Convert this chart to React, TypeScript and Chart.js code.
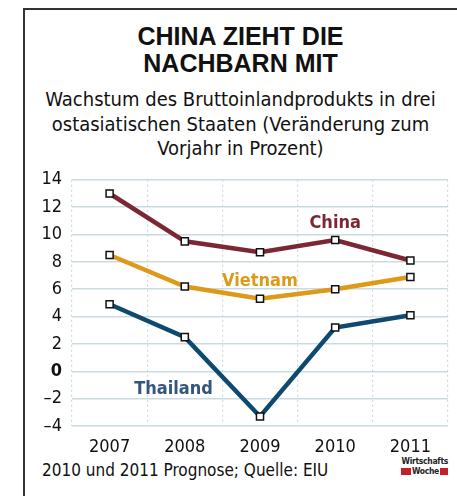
import React, { useEffect, useRef } from "react";
import { Chart, registerables } from "chart.js";

Chart.register(...registerables);

const years = ["2007", "2008", "2009", "2010", "2011"];
const china = [13.0, 9.5, 8.7, 9.6, 8.1];
const vietnam = [8.5, 6.2, 5.3, 6.0, 6.9];
const thailand = [4.9, 2.5, -3.3, 3.2, 4.1];
const yTicks = [-4, -2, 0, 2, 4, 6, 8, 10, 12, 14];

const seriesLabels = [
  { text: "China", x: 3, y: 10.8, color: "#7b2834" },
  { text: "Vietnam", x: 2, y: 6.6, color: "#dc9a18" },
  { text: "Thailand", x: 0.85, y: -1.3, color: "#34557e" },
];

const COND = "'Liberation Sans Narrow', 'DejaVu Sans Condensed', 'Roboto', sans-serif";

const labelPlugin = {
  id: "seriesLabels",
  afterDatasetsDraw(chart: any) {
    const { ctx, scales } = chart;
    ctx.save();
    ctx.font = `bold 18px ${COND}`;
    ctx.textAlign = "center";
    ctx.textBaseline = "middle";
    for (const l of seriesLabels) {
      ctx.fillStyle = l.color;
      ctx.fillText(l.text, scales.x.getPixelForValue(l.x), scales.y.getPixelForValue(l.y));
    }
    ctx.restore();
  },
};

export default function App() {
  const ref = useRef<HTMLCanvasElement>(null);
  useEffect(() => {
    if (!ref.current) return;
    const mk = (label: string, data: number[], color: string) => ({
      label,
      data,
      borderColor: color,
      borderWidth: 4.5,
      pointStyle: "rect",
      pointRadius: 5,
      pointBackgroundColor: "#ffffff",
      pointBorderColor: "#111111",
      pointBorderWidth: 1.5,
      tension: 0,
    });
    const chart = new Chart(ref.current, {
      type: "line",
      data: {
        labels: years,
        datasets: [
          mk("China", china, "#7b2834"),
          mk("Vietnam", vietnam, "#dc9a18"),
          mk("Thailand", thailand, "#0e4a6f"),
        ],
      },
      options: {
        animation: false,
        responsive: false,
        maintainAspectRatio: false,
        layout: { padding: { top: 0, right: 9, left: 0, bottom: 0 } },
        plugins: { legend: { display: false }, tooltip: { enabled: false } },
        scales: {
          x: {
            offset: true,
            grid: { offset: true, color: "#c9dbe0", lineWidth: 1.2, drawTicks: false },
            border: { display: false, dash: [2, 3] },
            ticks: { color: "#111", font: { family: COND, size: 18 }, padding: 11, maxRotation: 0 },
            afterFit: (s: any) => { s.height = 28; },
          },
          y: {
            min: -4,
            max: 14,
            afterBuildTicks: (s: any) => { s.ticks = yTicks.map((v) => ({ value: v })); },
            grid: { color: "#c9dbe0", lineWidth: 1.5, drawTicks: false },
            border: { display: false },
            ticks: {
              color: "#111",
              padding: 10,
              font: (c: any) => ({ family: COND, size: 18, weight: c.tick && c.tick.value === 0 ? "bold" : "normal" }),
              callback: (v: any) => String(v).replace("-", "\u2013"),
            },
            afterFit: (s: any) => { s.width = 48; },
          },
        },
      },
      plugins: [labelPlugin],
    });
    return () => chart.destroy();
  }, []);

  const frame: React.CSSProperties = { position: "absolute", background: "#333" };
  return (
    <div style={{ position: "absolute", left: 0, top: 0, width: 457, height: 496, background: "#fff", overflow: "hidden" }}>
      <div style={{ ...frame, left: 23, top: 8, width: 1.5, height: 488 }} />
      <div style={{ ...frame, left: 23, top: 8, width: 434, height: 1.5 }} />
      <div style={{ position: "absolute", left: 24, width: 433, top: 23, textAlign: "center", fontFamily: "'Liberation Sans', Arial, sans-serif", fontWeight: "bold", fontSize: 25, lineHeight: "27px", color: "#111" }}>
        CHINA ZIEHT DIE<br />NACHBARN MIT
      </div>
      <div style={{ position: "absolute", left: 24, width: 433, top: 87, textAlign: "center", fontFamily: COND, fontSize: 20, lineHeight: "24.5px", color: "#111" }}>
        Wachstum des Bruttoinlandprodukts in drei<br />ostasiatischen Staaten (Veränderung zum<br />Vorjahr in Prozent)
      </div>
      <canvas ref={ref} width={433} height={295} style={{ position: "absolute", left: 24, top: 159, width: 433, height: 295 }} />
      <div style={{ position: "absolute", left: 42, top: 460, fontFamily: COND, fontSize: 17, lineHeight: "20px", color: "#111" }}>
        2010 und 2011 Prognose; Quelle: EIU
      </div>
      <div style={{ position: "absolute", left: 398, top: 456, width: 50, textAlign: "right", fontFamily: COND, fontWeight: "bold", fontSize: 8.5, lineHeight: "10px", letterSpacing: -0.3, color: "#222" }}>
        <div>Wirtschafts</div>
        <div style={{ display: "flex", justifyContent: "flex-end", alignItems: "center", gap: 1 }}>
          <span style={{ display: "inline-block", width: 10, height: 7, background: "#c4202b" }} />
          <span>Woche</span>
          <span style={{ display: "inline-block", width: 8, height: 7, background: "#c4202b" }} />
        </div>
      </div>
    </div>
  );
}
